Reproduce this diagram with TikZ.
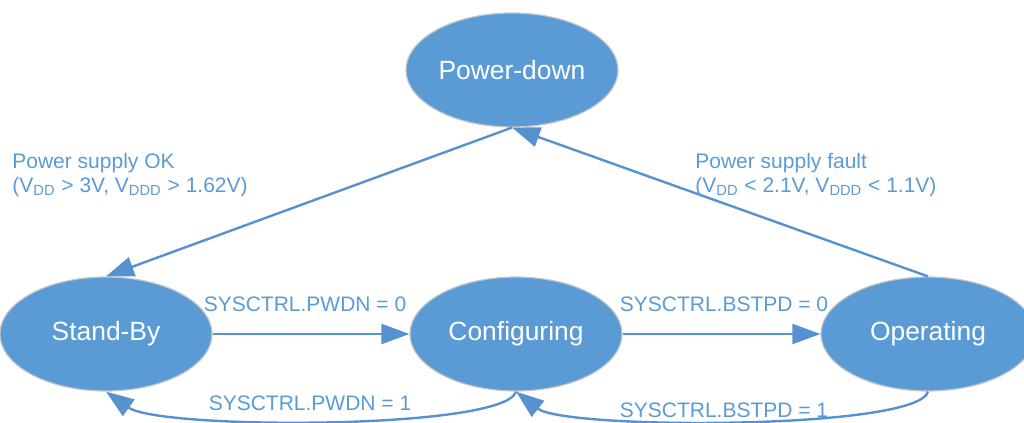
\documentclass[tikz,border=0pt]{standalone}
\usepackage{fontspec}
\setmainfont{Liberation Sans}
\usetikzlibrary{shapes.geometric,arrows.meta}
\definecolor{stateblue}{HTML}{5B9BD5}
\definecolor{arrowblue}{HTML}{5592CF}
\tikzset{
  state/.style={ellipse,fill=stateblue,draw=black!22,line width=0.6pt,text=white,
    minimum width=106pt,minimum height=57pt,inner sep=0pt,
    font=\fontsize{13.2}{15}\selectfont},
  trans/.style={draw=arrowblue,line width=1.2pt,-{Triangle[length=14pt,width=10pt]}},
  cond/.style={text=stateblue,inner sep=0pt,font=\fontsize{10.5}{12}\selectfont}
}
\begin{document}
\begin{tikzpicture}[x=0.5pt,y=-0.5pt]
    \useasboundingbox (0,0) rectangle (1024,423);
    \node[state] (pdown) at (512,70)  {Power-down};
    \node[state] (stby)  at (106,334) {Stand-By};
    \node[state] (conf)  at (516,334) {Configuring};
    \node[state,minimum width=107pt] (oper) at (928,334) {Operating};
    \draw [trans] (pdown.south) -- (stby.north);
    \draw [trans] (oper.north) -- (pdown.south);
    \draw [trans] (stby.east) -- (conf.west);
    \draw [trans] (conf.east) -- (oper.west);
    \draw [trans] (conf.south) .. controls (505,430) and (160,430) .. (stby.south);
    \draw [trans] (oper.south) .. controls (918,430) and (565,430) .. (conf.south);
    \node[cond,anchor=west,align=left] (okl) at (12,175)
      {Power supply OK\\(V\textsubscript{DD} > 3V, V\textsubscript{DDD} > 1.62V)};
    \node[cond,anchor=west,align=left] (faultl) at (695,175)
      {Power supply fault\\(V\textsubscript{DD} < 2.1V, V\textsubscript{DDD} < 1.1V)};
    \node[cond] (pwdn0)  at (305,304) {SYSCTRL.PWDN = 0};
    \node[cond] (pwdn1)  at (310,403) {SYSCTRL.PWDN = 1};
    \node[cond] (bstpd0) at (724,304) {SYSCTRL.BSTPD = 0};
    \node[cond] (bstpd1) at (724,410) {SYSCTRL.BSTPD = 1};
\end{tikzpicture}
\end{document}
